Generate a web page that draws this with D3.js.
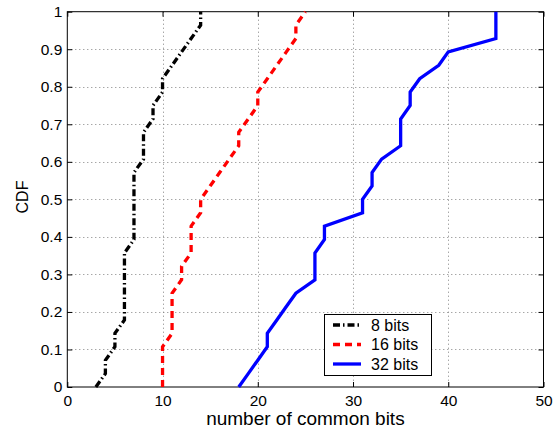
<!DOCTYPE html>
<html>
<head>
<meta charset="utf-8">
<script src="https://cdn.jsdelivr.net/npm/d3@7/dist/d3.min.js"></script>
<style>
body { margin: 0; background: #fff; }
text { font-family: "Liberation Sans", Arial, Helvetica, sans-serif; }
</style>
</head>
<body>
<div id="canvas"></div>
<script>
// sorted sample values (number of common bits)
const bits8 = [3, 4, 4, 5, 5, 6, 6, 6, 6, 6, 6, 7, 7, 7, 7, 7, 7, 8, 8, 8, 9, 9, 10, 10, 11, 12, 13, 14, 14];
const bits16 = [10, 10, 10, 10, 11, 11, 11, 11, 12, 12, 13, 13, 13, 14, 14, 15, 16, 17, 18, 18, 19, 20, 20, 21, 22, 23, 24, 24, 25];
const bits32 = [18, 19, 20, 21, 21, 22, 23, 24, 26, 26, 26, 27, 27, 31, 31, 32, 32, 33, 35, 35, 35, 36, 36, 37, 39, 40, 45, 45, 45];
const seriesNames = ["8 bits", "16 bits", "32 bits"];
const xTicks = [0, 10, 20, 30, 40, 50];
const yTicks = [0, 0.1, 0.2, 0.3, 0.4, 0.5, 0.6, 0.7, 0.8, 0.9, 1];

const W = 553, H = 430;
const mLeft = 67.3, mRight = 543.5, mTop = 11.7, mBottom = 387;

const svg = d3.select("#canvas")
  .append("svg")
  .attr("width", W)
  .attr("height", H);

const x = d3.scaleLinear().domain([0, 50]).range([mLeft, mRight]);
const y = d3.scaleLinear().domain([0, 1]).range([mBottom, mTop]);

// empirical CDF: i-th sorted sample at i/(n-1)
function cdf(vals) {
  return vals.map((v, i) => [v, i / (vals.length - 1)]);
}

// grid
const grid = svg.append("g")
  .attr("stroke", "#808080")
  .attr("stroke-width", 1)
  .attr("stroke-dasharray", "1,3");
xTicks.slice(1, -1).forEach(t => {
  grid.append("line")
    .attr("x1", Math.round(x(t)) + 0.5).attr("x2", Math.round(x(t)) + 0.5)
    .attr("y1", mTop).attr("y2", mBottom);
});
yTicks.slice(1, -1).forEach(t => {
  grid.append("line")
    .attr("x1", mLeft).attr("x2", mRight)
    .attr("y1", Math.round(y(t)) + 0.5).attr("y2", Math.round(y(t)) + 0.5);
});

// axes with inward ticks
const fmt = d3.format("~g");
const gx = svg.append("g").attr("transform", `translate(0,${mBottom})`)
  .call(d3.axisBottom(x).tickValues(xTicks).tickSize(-5).tickPadding(8).tickFormat(fmt));
const gxt = svg.append("g").attr("transform", `translate(0,${mTop})`)
  .call(d3.axisTop(x).tickValues(xTicks).tickSize(-5).tickFormat(""));
const gy = svg.append("g").attr("transform", `translate(${mLeft},0)`)
  .call(d3.axisLeft(y).tickValues(yTicks).tickSize(-5).tickPadding(5).tickFormat(fmt));
const gyr = svg.append("g").attr("transform", `translate(${mRight},0)`)
  .call(d3.axisRight(y).tickValues(yTicks).tickSize(-5).tickFormat(""));

[gx, gxt, gy, gyr].forEach(g => {
  g.select(".domain").remove();
  g.selectAll(".tick line").attr("stroke", "#000");
  g.selectAll("text")
    .attr("fill", "#000")
    .style("font-size", "15.5px")
    .style("font-family", "'Liberation Sans', Arial, sans-serif");
});

svg.append("rect")
  .attr("x", mLeft).attr("y", mTop)
  .attr("width", mRight - mLeft).attr("height", mBottom - mTop)
  .attr("fill", "none").attr("stroke", "#000").attr("stroke-width", 1);

// curves
const line = d3.line().x(d => x(d[0])).y(d => y(d[1]));
const styles = [
  { color: "#000000", dash: "7,3,1.5,3" },
  { color: "#ff0000", dash: "7,5" },
  { color: "#0000ff", dash: null }
];
[bits8, bits16, bits32].forEach((vals, k) => {
  svg.append("path")
    .datum(cdf(vals))
    .attr("d", line)
    .attr("fill", "none")
    .attr("stroke", styles[k].color)
    .attr("stroke-width", 3.3)
    .attr("stroke-dasharray", styles[k].dash);
});

// axis labels
svg.append("text")
  .attr("x", (mLeft + mRight) / 2)
  .attr("y", 425.3)
  .attr("text-anchor", "middle")
  .style("font-size", "19px")
  .text("number of common bits");

svg.append("text")
  .attr("transform", "translate(28,197) rotate(-90)")
  .attr("text-anchor", "middle")
  .style("font-size", "16px")
  .text("CDF");

// legend
const lg = svg.append("g");
lg.append("rect")
  .attr("x", 324.5).attr("y", 314.5)
  .attr("width", 107).attr("height", 61)
  .attr("fill", "#fff").attr("stroke", "#000").attr("stroke-width", 1);
seriesNames.forEach((name, k) => {
  const ly = 325 + k * 19.5;
  lg.append("line")
    .attr("x1", 333).attr("x2", 361)
    .attr("y1", ly).attr("y2", ly)
    .attr("stroke", styles[k].color)
    .attr("stroke-width", 3.3)
    .attr("stroke-dasharray", styles[k].dash);
  lg.append("text")
    .attr("x", 371)
    .attr("y", ly + 5.5)
    .style("font-size", "16px")
    .text(name);
});
</script>
</body>
</html>
